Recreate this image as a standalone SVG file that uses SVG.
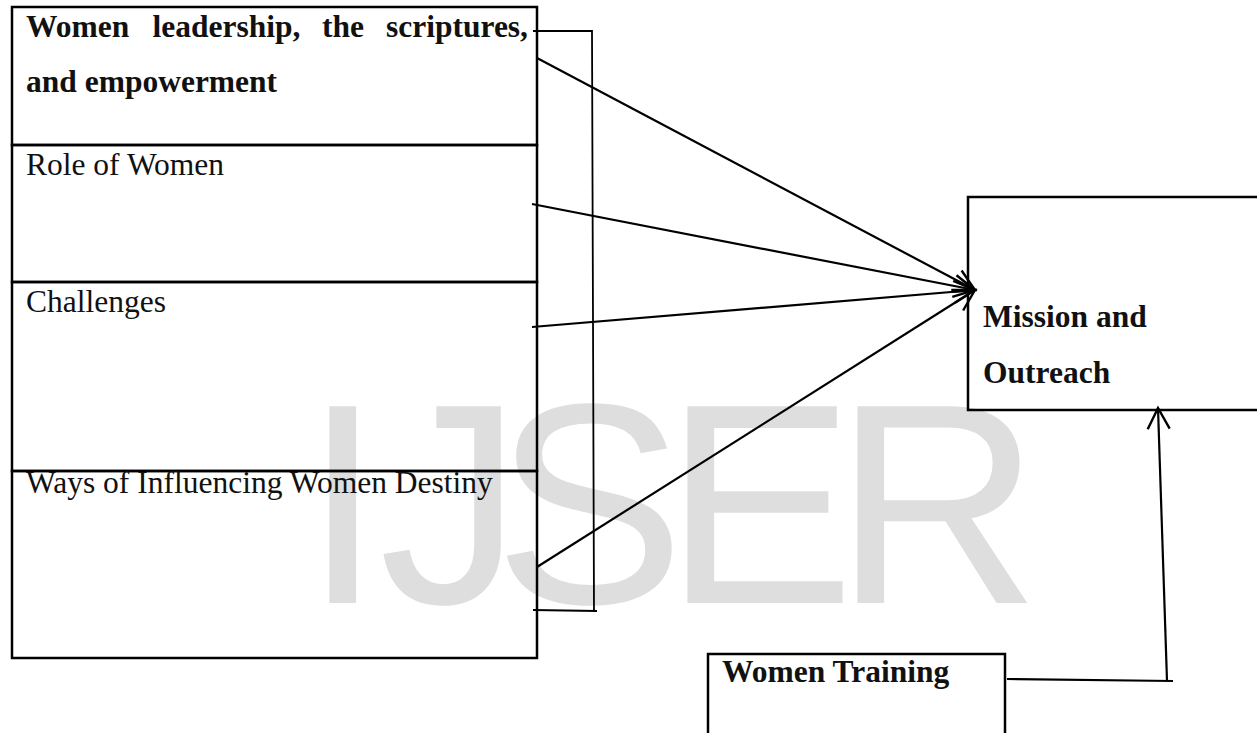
<svg xmlns="http://www.w3.org/2000/svg" width="1257" height="733" viewBox="0 0 1257 733">
  <style>
    .box { fill: none; stroke: #000; stroke-width: 2.5; }
    .t { font-family: "Liberation Serif", "Times New Roman", serif; font-size: 31.5px; fill: #111; }
    .b { font-weight: bold; }
    .wm { font-family: "Liberation Sans", Arial, sans-serif; font-size: 286px; fill: #dedede; }
    .conn { fill: none; stroke: #000; stroke-width: 2.2; }
    .br { fill: none; stroke: #000; stroke-width: 1.8; }
  </style>
  <defs>
    <marker id="arr" markerUnits="userSpaceOnUse" markerWidth="40" markerHeight="40" viewBox="-30 -20 40 40" refX="0" refY="0" orient="auto">
      <path d="M-21,-11 L0,0 L-21,11" fill="none" stroke="#000" stroke-width="2.4"/>
    </marker>
  </defs>
  <rect width="1257" height="733" fill="#fff"/>
  <g id="watermark">
    <text class="wm" x="303" y="603">I</text>
    <text class="wm" x="379" y="603">J</text>
    <text class="wm" x="494" y="603">S</text>
    <text class="wm" x="664" y="603">E</text>
    <text class="wm" x="834" y="603">R</text>
  </g>
  <g id="node-leadership">
    <rect class="box" x="12" y="7" width="525" height="138"/>
    <text class="t b" y="37"><tspan x="26">Women</tspan><tspan x="152.5">leadership,</tspan><tspan x="322">the</tspan><tspan x="528" text-anchor="end">scriptures,</tspan></text>
    <text class="t b" x="26" y="92">and empowerment</text>
  </g>
  <g id="node-role">
    <rect class="box" x="12" y="145" width="525" height="137"/>
    <text class="t" x="26" y="175">Role of Women</text>
  </g>
  <g id="node-challenges">
    <rect class="box" x="12" y="282" width="525" height="189"/>
    <text class="t" x="26" y="312">Challenges</text>
  </g>
  <g id="node-ways">
    <rect class="box" x="12" y="471" width="525" height="187"/>
    <text class="t" x="26" y="493">Ways of Influencing Women Destiny</text>
  </g>
  <g id="node-mission">
    <rect class="box" x="968" y="197" width="300" height="213"/>
    <text class="t b" x="983" y="327">Mission and</text>
    <text class="t b" x="983" y="383">Outreach</text>
  </g>
  <g id="node-training">
    <rect class="box" x="708" y="654" width="297" height="100"/>
    <text class="t b" x="722" y="682">Women Training</text>
  </g>
  <g id="connectors">
    <path class="br" d="M533,31 L592,31 L594,611 M533,610 L597,611"/>
    <line class="conn" x1="537" y1="58" x2="975" y2="290" marker-end="url(#arr)"/>
    <line class="conn" x1="532" y1="204" x2="975" y2="290" marker-end="url(#arr)"/>
    <line class="conn" x1="532" y1="327" x2="975" y2="290" marker-end="url(#arr)"/>
    <line class="conn" x1="537" y1="567" x2="975" y2="290" marker-end="url(#arr)"/>
    <path class="conn" d="M1007,679 L1173,681"/>
    <line class="conn" x1="1167" y1="681" x2="1158" y2="408" marker-end="url(#arr)"/>
  </g>
</svg>
